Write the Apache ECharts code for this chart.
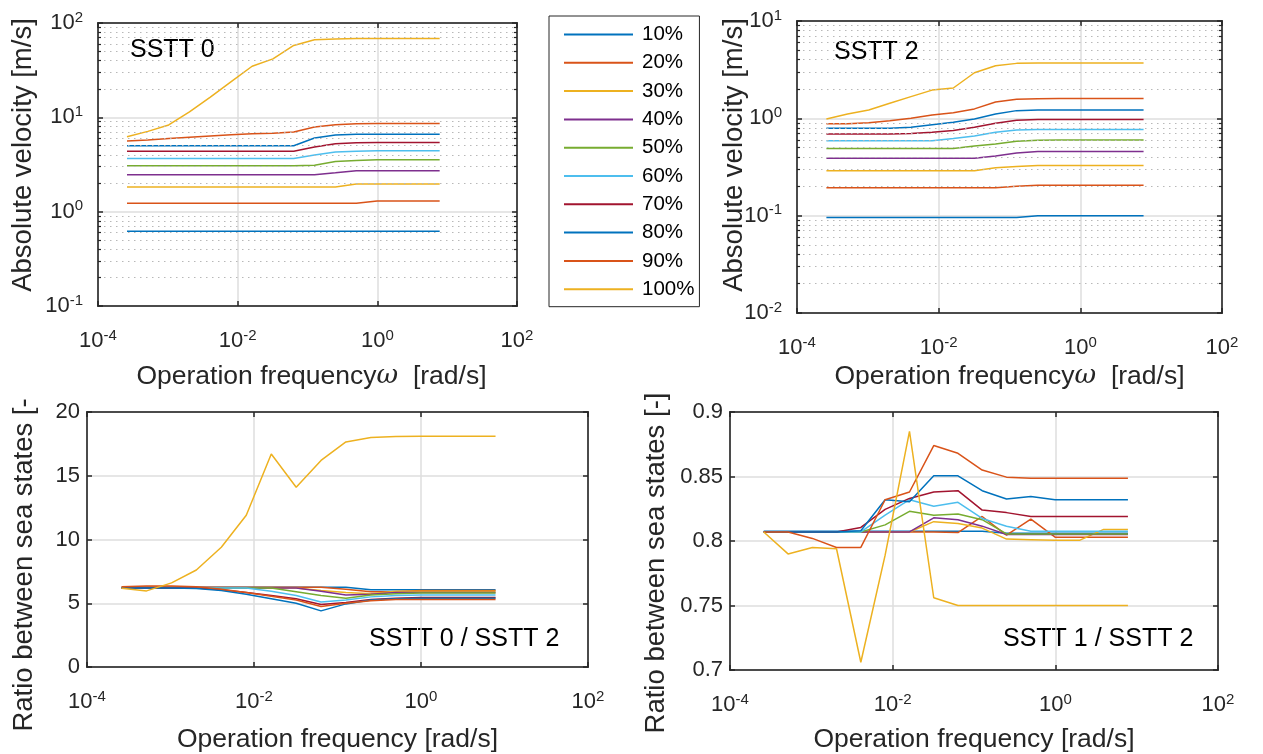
<!DOCTYPE html>
<html>
<head>
<meta charset="utf-8">
<script src="https://cdn.jsdelivr.net/npm/echarts@6/dist/echarts.min.js"></script>
<style>
html, body { margin: 0; padding: 0; background: #fff; }
#chart { width: 1263px; height: 754px; }
</style>
</head>
<body>
<div id="chart"></div>
<script>
// operation frequency [rad/s], same for every subplot
const freq = [2.60e-4, 5.17e-4, 1.03e-3, 2.04e-3, 4.06e-3, 8.08e-3, 0.0161, 0.0320,
    0.0635, 0.126, 0.251, 0.500, 0.993, 1.98, 3.93, 7.81]
const names = ['10%', '20%', '30%', '40%', '50%', '60%', '70%', '80%', '90%', '100%']
const colors = ['#0072BD', '#D95319', '#EDB120', '#7E2F8E', '#77AC30',
    '#4DBEEE', '#A2142F', '#0072BD', '#D95319', '#EDB120']

// SSTT 0 - absolute velocity [m/s]
const sstt0_10 = [0.62, 0.62, 0.62, 0.62, 0.62, 0.62, 0.62, 0.62, 0.62, 0.62, 0.62, 0.62, 0.62, 0.62, 0.62, 0.62]
const sstt0_20 = [1.23, 1.23, 1.23, 1.23, 1.23, 1.23, 1.23, 1.23, 1.23, 1.23, 1.23, 1.23, 1.30, 1.30, 1.30, 1.30]
const sstt0_30 = [1.83, 1.83, 1.83, 1.83, 1.83, 1.83, 1.83, 1.83, 1.83, 1.83, 1.83, 1.97, 1.97, 1.97, 1.97, 1.97]
const sstt0_40 = [2.46, 2.46, 2.46, 2.46, 2.46, 2.46, 2.46, 2.46, 2.46, 2.46, 2.58, 2.71, 2.71, 2.71, 2.71, 2.71]
const sstt0_50 = [3.06, 3.06, 3.06, 3.06, 3.06, 3.06, 3.06, 3.06, 3.06, 3.10, 3.40, 3.48, 3.55, 3.55, 3.55, 3.55]
const sstt0_60 = [3.66, 3.66, 3.66, 3.66, 3.66, 3.66, 3.66, 3.66, 3.66, 3.98, 4.28, 4.36, 4.43, 4.43, 4.43, 4.43]
const sstt0_70 = [4.36, 4.36, 4.36, 4.36, 4.36, 4.36, 4.36, 4.36, 4.36, 4.84, 5.25, 5.37, 5.42, 5.42, 5.42, 5.42]
const sstt0_80 = [5.00, 5.00, 5.00, 5.00, 5.00, 5.00, 5.00, 5.00, 5.00, 6.03, 6.49, 6.60, 6.60, 6.60, 6.60, 6.60]
const sstt0_90 = [5.60, 5.75, 5.95, 6.15, 6.35, 6.55, 6.70, 6.80, 7.00, 7.90, 8.35, 8.55, 8.60, 8.60, 8.60, 8.60]
const sstt0_100 = [6.24, 7.10, 8.30, 11.4, 16.4, 23.9, 34.8, 41.7, 57.8, 66.4, 67.5, 68.6, 68.6, 68.6, 68.6, 68.6]

// SSTT 2 - absolute velocity [m/s]
const sstt2_10 = [0.096, 0.096, 0.096, 0.096, 0.096, 0.096, 0.096, 0.096, 0.096, 0.096, 0.100, 0.100, 0.100, 0.100, 0.100, 0.100]
const sstt2_20 = [0.194, 0.194, 0.194, 0.194, 0.194, 0.194, 0.194, 0.194, 0.194, 0.200, 0.205, 0.205, 0.205, 0.205, 0.205, 0.205]
const sstt2_30 = [0.29, 0.29, 0.29, 0.29, 0.29, 0.29, 0.29, 0.29, 0.31, 0.32, 0.327, 0.327, 0.327, 0.327, 0.327, 0.327]
const sstt2_40 = [0.39, 0.39, 0.39, 0.39, 0.39, 0.39, 0.39, 0.39, 0.41, 0.44, 0.455, 0.455, 0.455, 0.455, 0.455, 0.455]
const sstt2_50 = [0.49, 0.49, 0.49, 0.49, 0.49, 0.49, 0.49, 0.52, 0.545, 0.58, 0.595, 0.60, 0.60, 0.60, 0.60, 0.60]
const sstt2_60 = [0.59, 0.59, 0.59, 0.59, 0.59, 0.59, 0.62, 0.66, 0.72, 0.76, 0.77, 0.77, 0.77, 0.77, 0.77, 0.77]
const sstt2_70 = [0.69, 0.69, 0.69, 0.69, 0.70, 0.72, 0.75, 0.81, 0.89, 0.955, 0.97, 0.97, 0.97, 0.97, 0.97, 0.97]
const sstt2_80 = [0.79, 0.79, 0.79, 0.79, 0.81, 0.86, 0.91, 0.985, 1.11, 1.20, 1.22, 1.22, 1.22, 1.22, 1.22, 1.22]
const sstt2_90 = [0.88, 0.88, 0.90, 0.947, 1.00, 1.08, 1.14, 1.25, 1.47, 1.57, 1.59, 1.60, 1.60, 1.60, 1.60, 1.60]
const sstt2_100 = [0.985, 1.11, 1.22, 1.43, 1.67, 1.95, 2.05, 2.94, 3.47, 3.67, 3.70, 3.70, 3.70, 3.70, 3.70, 3.70]

// ratio SSTT 0 / SSTT 2 [-]
const r02_10 = [6.25, 6.25, 6.25, 6.25, 6.25, 6.25, 6.25, 6.25, 6.25, 6.25, 6.05, 6.05, 6.05, 6.05, 6.05, 6.05]
const r02_20 = [6.25, 6.25, 6.25, 6.25, 6.25, 6.25, 6.25, 6.25, 6.25, 6.10, 5.90, 5.90, 6.00, 6.00, 6.00, 6.00]
const r02_30 = [6.20, 6.20, 6.20, 6.20, 6.20, 6.20, 6.20, 6.20, 6.00, 5.85, 5.75, 5.95, 5.95, 5.95, 5.95, 5.95]
const r02_40 = [6.20, 6.20, 6.20, 6.20, 6.20, 6.20, 6.20, 6.20, 5.95, 5.65, 5.70, 5.85, 5.85, 5.85, 5.85, 5.85]
const r02_50 = [6.20, 6.20, 6.20, 6.20, 6.20, 6.20, 6.20, 5.90, 5.60, 5.40, 5.65, 5.75, 5.80, 5.80, 5.80, 5.80]
const r02_60 = [6.20, 6.20, 6.20, 6.20, 6.20, 6.20, 5.95, 5.60, 5.10, 5.25, 5.50, 5.60, 5.65, 5.65, 5.65, 5.65]
const r02_70 = [6.20, 6.20, 6.20, 6.20, 6.05, 5.85, 5.60, 5.35, 4.90, 5.05, 5.30, 5.40, 5.45, 5.45, 5.45, 5.45]
const r02_80 = [6.20, 6.20, 6.20, 6.15, 6.00, 5.70, 5.35, 5.00, 4.40, 4.95, 5.25, 5.35, 5.40, 5.40, 5.40, 5.40]
const r02_90 = [6.30, 6.35, 6.35, 6.30, 6.10, 5.85, 5.55, 5.25, 4.75, 5.00, 5.20, 5.30, 5.30, 5.30, 5.30, 5.30]
const r02_100 = [6.18, 5.97, 6.60, 7.61, 9.39, 11.9, 16.7, 14.1, 16.2, 17.65, 18.0, 18.07, 18.1, 18.1, 18.1, 18.1]

// ratio SSTT 1 / SSTT 2 [-]
const r12_10 = [0.8075, 0.8075, 0.8075, 0.8075, 0.8075, 0.8075, 0.8075, 0.8075, 0.8075, 0.8075, 0.806, 0.806, 0.806, 0.806, 0.806, 0.806]
const r12_20 = [0.807, 0.807, 0.807, 0.807, 0.807, 0.807, 0.807, 0.807, 0.8065, 0.819, 0.8045, 0.817, 0.803, 0.803, 0.803, 0.803]
const r12_30 = [0.807, 0.807, 0.807, 0.807, 0.807, 0.807, 0.807, 0.815, 0.8135, 0.810, 0.8015, 0.801, 0.8005, 0.8005, 0.809, 0.809]
const r12_40 = [0.807, 0.807, 0.807, 0.807, 0.807, 0.807, 0.807, 0.818, 0.8165, 0.8115, 0.805, 0.805, 0.805, 0.805, 0.805, 0.805]
const r12_50 = [0.807, 0.807, 0.807, 0.807, 0.807, 0.8125, 0.823, 0.820, 0.821, 0.8165, 0.8055, 0.8055, 0.8055, 0.8055, 0.8055, 0.8055]
const r12_60 = [0.807, 0.807, 0.807, 0.807, 0.807, 0.820, 0.832, 0.827, 0.830, 0.8175, 0.8115, 0.8075, 0.8075, 0.8075, 0.8075, 0.8075]
const r12_70 = [0.807, 0.807, 0.807, 0.807, 0.8105, 0.8245, 0.833, 0.838, 0.839, 0.824, 0.822, 0.819, 0.819, 0.819, 0.819, 0.819]
const r12_80 = [0.807, 0.807, 0.807, 0.807, 0.808, 0.832, 0.8305, 0.8505, 0.8505, 0.839, 0.8325, 0.8345, 0.832, 0.832, 0.832, 0.832]
const r12_90 = [0.807, 0.807, 0.802, 0.795, 0.795, 0.832, 0.838, 0.874, 0.868, 0.855, 0.8495, 0.8487, 0.8487, 0.8487, 0.8487, 0.8487]
const r12_100 = [0.807, 0.790, 0.795, 0.794, 0.706, 0.789, 0.885, 0.756, 0.750, 0.750, 0.750, 0.750, 0.750, 0.750, 0.750, 0.750]

const panels = [
    [sstt0_10, sstt0_20, sstt0_30, sstt0_40, sstt0_50, sstt0_60, sstt0_70, sstt0_80, sstt0_90, sstt0_100],
    [sstt2_10, sstt2_20, sstt2_30, sstt2_40, sstt2_50, sstt2_60, sstt2_70, sstt2_80, sstt2_90, sstt2_100],
    [r02_10, r02_20, r02_30, r02_40, r02_50, r02_60, r02_70, r02_80, r02_90, r02_100],
    [r12_10, r12_20, r12_30, r12_40, r12_50, r12_60, r12_70, r12_80, r12_90, r12_100],
]

const FONT = 'Liberation Sans, Arial, Helvetica, sans-serif'
const INK = '#262626'
const GRIDC = '#dedede'

const chart = echarts.init(document.getElementById('chart'))

function powLabel(v) {
    const e = Math.round(Math.log10(v))
    return '{b|10}{s|' + e + '}'
}
const powRich = {
    b: { fontSize: 22, fontFamily: FONT, color: INK },
    s: { fontSize: 15, fontFamily: FONT, color: INK, padding: [0, 0, 11, 0] },
}

// minor positions 2..9 of each decade of a log y axis
function minorValues(lo, hi) {
    const out = []
    for (let e = lo; e < hi; e++) {
        for (let m = 2; m <= 9; m++) out.push(m * Math.pow(10, e))
    }
    return out
}
// short inward minor ticks on both sides of the box (~3px of a 70px decade)
function minorTicks(vals) {
    const f = Math.pow(10, 3 / 70)
    const out = []
    vals.forEach(v => {
        out.push([{ coord: [1e-4, v] }, { coord: [1e-4 * f, v] }])
        out.push([{ coord: [1e2 / f, v] }, { coord: [1e2, v] }])
    })
    return out
}

const grids = [
    { left: 98, top: 23, width: 419, height: 283 },
    { left: 797, top: 21, width: 425, height: 292 },
    { left: 87, top: 412, width: 501, height: 256 },
    { left: 730, top: 412, width: 488, height: 259 },
]

const xNames = [
    'Operation frequency{i|ω}  [rad/s]',
    'Operation frequency{i|ω}  [rad/s]',
    'Operation frequency [rad/s]',
    'Operation frequency [rad/s]',
]
const xNameGap = [57, 50, 59, 56]

const xAxes = []
const yAxes = []
grids.forEach((g, i) => {
    const xBase = {
        gridIndex: i,
        type: 'log',
        logBase: 10,
        min: 1e-4,
        max: 1e2,
        interval: 2,
        axisLine: { show: true, onZero: false, lineStyle: { color: INK, width: 1.5 } },
        axisTick: { show: true, inside: true, length: 5, lineStyle: { color: INK, width: 1.5 } },
    }
    xAxes.push(Object.assign({}, xBase, {
        position: 'bottom',
        name: xNames[i],
        nameLocation: 'middle',
        nameGap: xNameGap[i],
        nameTextStyle: {
            fontSize: 26.5, fontFamily: FONT, color: INK,
            padding: i === 0 ? [0, 0, 0, 8] : 0,
            rich: { i: { fontSize: 26.5, fontFamily: 'DejaVu Serif, serif', fontStyle: 'italic', color: INK } },
        },
        axisLabel: {
            margin: 22,
            formatter: v => (Math.round(Math.log10(v)) % 2 === 0 ? powLabel(v) : ''),
            rich: powRich,
        },
        splitLine: { show: true, lineStyle: { color: GRIDC, width: 1.5 } },
    }))
    xAxes.push(Object.assign({}, xBase, {
        position: 'top',
        axisLabel: { show: false },
        splitLine: { show: false },
    }))

    let yBase
    if (i === 0) {
        yBase = { type: 'log', logBase: 10, min: 0.1, max: 100 }
    } else if (i === 1) {
        yBase = { type: 'log', logBase: 10, min: 0.01, max: 10 }
    } else if (i === 2) {
        yBase = { type: 'value', min: 0, max: 20, interval: 5 }
    } else {
        yBase = { type: 'value', min: 0.7, max: 0.9, interval: 0.05 }
    }
    Object.assign(yBase, {
        gridIndex: i,
        axisLine: { show: true, onZero: false, lineStyle: { color: INK, width: 1.5 } },
        axisTick: { show: true, inside: true, length: 5, lineStyle: { color: INK, width: 1.5 } },
    })
    yAxes.push(Object.assign({}, yBase, {
        position: 'left',
        axisLabel: i < 2
            ? { margin: 15, formatter: powLabel, rich: powRich }
            : {
                margin: 7, fontSize: 22, fontFamily: FONT, color: INK,
                formatter: v => (i === 3 ? String(+v.toFixed(2)) : String(v)),
            },
        splitLine: { show: true, lineStyle: { color: GRIDC, width: 1.5 } },
    }))
    yAxes.push(Object.assign({}, yBase, {
        position: 'right',
        axisLabel: { show: false },
        splitLine: { show: false },
    }))
})

const series = []
panels.forEach((vals, p) => {
    vals.forEach((arr, s) => {
        const item = {
            name: names[s],
            type: 'line',
            xAxisIndex: p * 2,
            yAxisIndex: p * 2,
            symbol: 'none',
            lineStyle: { color: colors[s], width: 1.5 },
            itemStyle: { color: colors[s] },
            data: freq.map((f, k) => [f, arr[k]]),
        }
        if (p < 2 && s === 0) {
            // dotted minor grid of the log y axis
            item.markLine = {
                silent: true,
                symbol: 'none',
                label: { show: false },
                lineStyle: { type: [1.5, 4.5], color: '#b8b8b8', width: 1 },
                data: (p === 0 ? minorValues(-1, 2) : minorValues(-2, 1)).map(v => ({ yAxis: v })),
            }
        }
        if (p < 2 && s === 1) {
            item.markLine = {
                silent: true,
                symbol: 'none',
                label: { show: false },
                lineStyle: { type: 'solid', color: INK, width: 1.2 },
                data: minorTicks(p === 0 ? minorValues(-1, 2) : minorValues(-2, 1)),
            }
        }
        series.push(item)
    })
})

function vText(text, x, y) {
    return {
        type: 'text',
        x: x,
        y: y,
        rotation: Math.PI / 2,
        style: {
            text: text, fill: INK, font: '27.5px ' + FONT,
            textAlign: 'center', textVerticalAlign: 'middle',
        },
    }
}
function hText(text, x, y) {
    return {
        type: 'text',
        left: x,
        top: y,
        style: { text: text, fill: '#000', font: '25px ' + FONT },
    }
}

const option = {
    animation: false,
    backgroundColor: '#fff',
    grid: grids.map(g => Object.assign({ show: true, borderColor: INK, borderWidth: 1.5, backgroundColor: '#fff' }, g)),
    xAxis: xAxes,
    yAxis: yAxes,
    legend: {
        data: names,
        orient: 'vertical',
        left: 549,
        top: 16,
        icon: 'rect',
        itemWidth: 69,
        itemHeight: 2,
        itemGap: 7.3,
        padding: [8, 5, 7, 15],
        borderColor: INK,
        borderWidth: 1,
        backgroundColor: '#fff',
        selectedMode: false,
        textStyle: { fontSize: 20.5, fontFamily: FONT, color: '#000', lineHeight: 19, padding: [0, 0, 0, 4] },
    },
    graphic: [
        vText('Absolute velocity [m/s]', 23, 155),
        vText('Absolute velocity [m/s]', 734, 155),
        vText('Ratio between sea states [-', 24, 565),
        vText('Ratio between sea states [-]', 656, 563),
        hText('SSTT 0', 130, 38),
        hText('SSTT 2', 834, 40),
        hText('SSTT 0 / SSTT 2', 369, 627),
        hText('SSTT 1 / SSTT 2', 1003, 627),
    ],
    series: series,
}
chart.setOption(option)
</script>
</body>
</html>
